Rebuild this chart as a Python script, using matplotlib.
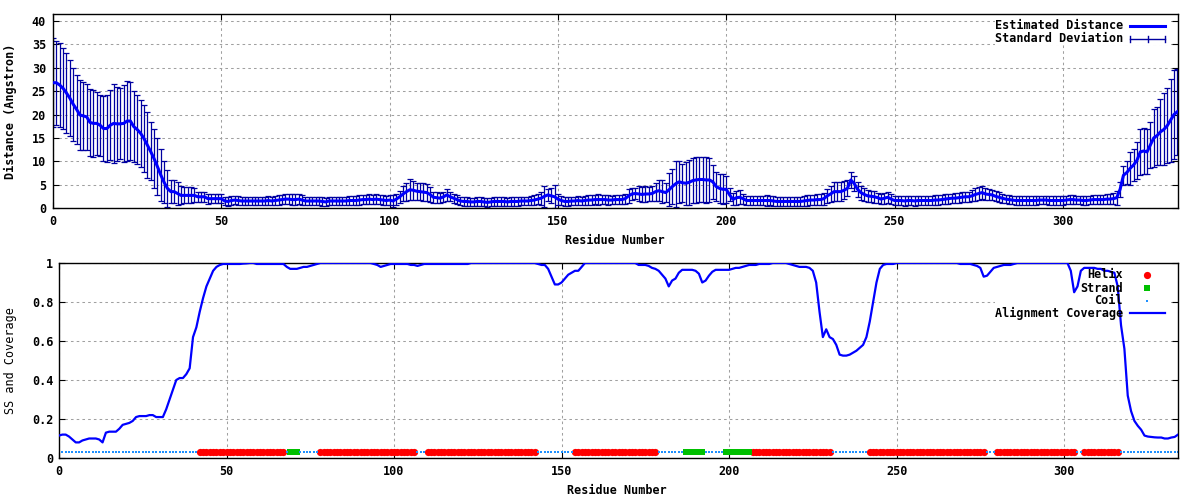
import matplotlib
matplotlib.use('Agg')
import matplotlib.pyplot as plt
import numpy as np
from matplotlib.patches import Rectangle
from matplotlib.lines import Line2D

# Estimated distance per residue (Angstrom), residues 0..334
distance = [
    26.8, 26.8, 26.3, 25.6, 24.6, 23.5, 22.2, 21.1, 19.9, 19.7,
    19.5, 18.3, 18.1, 18.1, 17.7, 17.0, 17.0, 17.7, 18.1, 18.0,
    18.0, 18.1, 18.6, 18.6, 17.4, 16.8, 16.0, 14.9, 13.5, 12.1,
    10.6, 8.9, 7.1, 5.5, 4.2, 3.5, 3.5, 3.1, 2.7, 2.7,
    2.7, 2.7, 2.7, 2.4, 2.4, 2.4, 2.0, 2.0, 2.0, 2.0,
    2.0, 1.5, 1.4, 1.6, 1.7, 1.6, 1.5, 1.5, 1.5, 1.5,
    1.5, 1.5, 1.5, 1.5, 1.6, 1.5, 1.6, 1.7, 1.8, 1.9,
    1.9, 1.8, 1.8, 1.9, 1.7, 1.5, 1.5, 1.5, 1.5, 1.5,
    1.4, 1.3, 1.5, 1.5, 1.5, 1.5, 1.5, 1.5, 1.6, 1.6,
    1.6, 1.7, 1.8, 1.8, 1.9, 1.8, 1.9, 1.8, 1.7, 1.6,
    1.7, 1.5, 1.9, 2.4, 3.0, 3.5, 3.9, 3.8, 3.6, 3.5,
    3.4, 3.3, 2.9, 2.3, 2.2, 2.1, 2.4, 2.8, 2.4, 2.1,
    1.8, 1.5, 1.4, 1.4, 1.3, 1.3, 1.4, 1.4, 1.3, 1.2,
    1.3, 1.4, 1.4, 1.4, 1.4, 1.3, 1.4, 1.4, 1.4, 1.5,
    1.5, 1.5, 1.6, 1.7, 1.9, 2.1, 2.5, 2.8, 2.6, 2.4,
    1.9, 1.6, 1.4, 1.4, 1.5, 1.5, 1.6, 1.5, 1.6, 1.7,
    1.7, 1.8, 1.8, 1.8, 1.8, 1.7, 1.7, 1.8, 1.8, 1.8,
    2.0, 2.6, 3.0, 3.1, 3.0, 2.9, 3.0, 3.0, 3.1, 3.5,
    3.7, 3.5, 3.3, 3.9, 4.6, 5.2, 5.6, 5.4, 5.3, 5.5,
    5.85, 6.0, 6.1, 6.1, 6.0, 6.0, 5.6, 4.6, 4.2, 4.0,
    4.0, 2.8, 1.85, 2.2, 2.3, 2.0, 1.6, 1.6, 1.6, 1.6,
    1.6, 1.6, 1.6, 1.6, 1.5, 1.4, 1.4, 1.4, 1.4, 1.4,
    1.4, 1.4, 1.4, 1.5, 1.6, 1.7, 1.7, 1.8, 1.8, 2.0,
    2.6, 3.0, 3.5, 3.5, 3.5, 3.8, 4.2, 6.0, 5.25, 4.0,
    3.3, 2.9, 2.6, 2.5, 2.4, 2.2, 1.9, 2.1, 2.3, 1.9,
    1.6, 1.6, 1.6, 1.5, 1.6, 1.6, 1.5, 1.6, 1.6, 1.6,
    1.6, 1.6, 1.7, 1.7, 1.8, 1.9, 2.0, 2.1, 2.1, 2.2,
    2.3, 2.4, 2.4, 2.6, 2.9, 3.1, 3.3, 3.0, 2.9, 2.8,
    2.5, 2.3, 2.1, 1.9, 1.8, 1.7, 1.6, 1.6, 1.6, 1.6,
    1.6, 1.6, 1.6, 1.7, 1.7, 1.7, 1.6, 1.6, 1.6, 1.6,
    1.6, 1.7, 1.8, 1.8, 1.7, 1.7, 1.6, 1.6, 1.7, 1.8,
    1.8, 1.8, 1.8, 1.9, 1.9, 2.0, 2.2, 4.0, 7.0, 7.6,
    8.5, 9.2, 10.2, 12.0, 12.2, 12.0, 13.5, 15.0, 15.5, 16.3,
    16.8, 17.6, 18.8, 20.0, 20.6,
]

# Standard deviation per residue
std_dev = [
    9.5, 9.0, 9.0, 8.6, 8.5, 8.1, 7.8, 7.4, 7.5, 7.2,
    7.0, 7.2, 7.1, 6.7, 6.5, 7.0, 7.1, 7.5, 8.4, 7.9,
    7.6, 8.2, 8.5, 8.3, 7.6, 7.3, 7.2, 7.1, 7.0, 6.2,
    6.3, 6.1, 5.5, 4.5, 3.9, 2.5, 2.5, 2.4, 1.9, 1.7,
    1.7, 1.7, 1.5, 1.1, 1.1, 1.1, 1.1, 1.0, 1.0, 1.0,
    1.0, 0.9, 1.0, 1.0, 0.9, 0.9, 0.9, 0.9, 0.9, 0.9,
    0.9, 0.9, 0.9, 0.9, 0.9, 0.9, 0.9, 1.0, 1.0, 1.1,
    1.0, 1.1, 1.2, 1.1, 1.0, 0.9, 0.9, 0.9, 0.9, 0.9,
    0.9, 0.9, 0.9, 0.9, 0.9, 0.9, 0.9, 0.9, 0.9, 0.9,
    0.9, 1.0, 1.0, 1.0, 1.0, 1.0, 1.0, 1.0, 1.1, 1.0,
    1.1, 1.3, 1.2, 1.3, 1.6, 1.9, 2.2, 2.0, 1.8, 1.8,
    1.9, 1.8, 1.6, 1.2, 1.2, 1.1, 1.1, 1.2, 1.0, 1.0,
    1.0, 0.9, 0.9, 0.9, 0.8, 0.8, 0.9, 0.9, 0.9, 0.9,
    0.9, 0.9, 0.9, 0.9, 0.9, 0.9, 0.9, 0.9, 0.9, 0.9,
    0.9, 0.9, 0.9, 1.0, 1.1, 1.4, 2.2, 1.3, 1.6, 2.5,
    1.2, 0.9, 0.9, 0.9, 0.9, 0.9, 0.9, 0.9, 1.0, 1.0,
    1.0, 1.0, 1.1, 1.0, 1.0, 1.0, 0.9, 1.0, 1.0, 1.0,
    1.1, 1.5, 1.3, 1.2, 1.6, 1.6, 1.7, 1.4, 1.5, 1.9,
    2.3, 2.5, 2.0, 3.5, 3.8, 4.9, 4.5, 4.1, 4.6, 4.8,
    4.8, 4.9, 4.9, 4.8, 4.9, 4.8, 3.7, 3.0, 3.1, 3.2,
    2.9, 1.4, 1.3, 1.5, 1.5, 1.1, 1.0, 1.0, 1.0, 1.0,
    1.0, 1.0, 1.1, 1.0, 1.0, 1.0, 1.0, 0.9, 0.9, 0.9,
    0.9, 1.0, 1.0, 1.0, 1.1, 1.0, 1.1, 1.2, 1.2, 1.3,
    1.5, 1.7, 2.1, 2.1, 2.0, 1.9, 1.7, 1.8, 1.7, 1.6,
    1.5, 1.4, 1.3, 1.2, 1.3, 1.1, 1.1, 1.2, 1.2, 1.1,
    1.0, 1.0, 1.0, 1.0, 1.0, 1.0, 1.0, 1.0, 1.0, 1.0,
    1.0, 1.0, 1.0, 1.0, 1.0, 1.0, 1.1, 1.0, 1.1, 1.1,
    1.1, 1.1, 1.1, 1.2, 1.3, 1.4, 1.4, 1.3, 1.2, 1.1,
    1.1, 1.1, 1.0, 0.9, 0.9, 0.9, 0.9, 0.9, 0.9, 0.9,
    0.9, 0.9, 0.9, 0.9, 0.9, 0.9, 0.9, 0.9, 0.9, 0.9,
    0.9, 0.9, 0.9, 0.9, 0.9, 0.9, 0.9, 0.9, 0.9, 1.0,
    1.0, 1.0, 1.0, 1.0, 1.1, 1.2, 1.5, 1.6, 2.0, 2.5,
    3.5, 3.5, 4.0, 5.0, 5.0, 4.8, 5.0, 6.2, 6.2, 7.0,
    7.7, 8.0, 8.9, 9.5, 9.2,
]

# Alignment coverage per residue
coverage = [
    0.115, 0.12, 0.12, 0.11, 0.095, 0.08, 0.08, 0.09, 0.095, 0.10,
    0.10, 0.10, 0.095, 0.08, 0.13, 0.135, 0.135, 0.135, 0.15, 0.17,
    0.175, 0.18, 0.19, 0.21, 0.215, 0.215, 0.215, 0.22, 0.22, 0.21,
    0.21, 0.21, 0.25, 0.30, 0.35, 0.40, 0.41, 0.41, 0.43, 0.46,
    0.62, 0.67, 0.75, 0.82, 0.88, 0.92, 0.96, 0.98, 0.99, 0.995,
    0.995, 0.995, 0.995, 0.995, 0.995, 0.997, 0.998, 1.0, 1.0, 0.995,
    0.995, 0.995, 0.995, 0.995, 0.995, 0.995, 0.995, 0.995, 0.98, 0.97,
    0.97, 0.97, 0.975, 0.98, 0.98, 0.985, 0.99, 0.995, 1.0, 1.0,
    1.0, 1.0, 1.0, 1.0, 1.0, 1.0, 1.0, 1.0, 1.0, 1.0,
    1.0, 1.0, 1.0, 1.0, 0.995, 0.99, 0.98, 0.985, 0.99, 0.995,
    0.995, 0.995, 0.995, 0.995, 0.995, 0.99, 0.99, 0.985, 0.99, 0.995,
    0.995, 0.995, 0.995, 0.995, 0.995, 0.995, 0.995, 0.995, 0.995, 0.995,
    0.995, 0.995, 0.995, 1.0, 1.0, 1.0, 1.0, 1.0, 1.0, 1.0,
    1.0, 1.0, 1.0, 1.0, 1.0, 1.0, 1.0, 1.0, 1.0, 1.0,
    1.0, 1.0, 1.0, 0.995, 0.99, 0.99, 0.97, 0.93, 0.89, 0.89,
    0.90, 0.92, 0.94, 0.95, 0.96, 0.96, 0.98, 1.0, 1.0, 1.0,
    1.0, 1.0, 1.0, 1.0, 1.0, 1.0, 1.0, 1.0, 1.0, 1.0,
    1.0, 1.0, 1.0, 0.99, 0.99, 0.99, 0.985, 0.975, 0.97, 0.96,
    0.94, 0.92, 0.88, 0.91, 0.92, 0.95, 0.965, 0.965, 0.965, 0.965,
    0.96, 0.945, 0.90, 0.91, 0.935, 0.955, 0.965, 0.965, 0.965, 0.965,
    0.965, 0.97, 0.975, 0.975, 0.98, 0.985, 0.99, 0.99, 0.99, 0.995,
    0.995, 0.995, 0.995, 1.0, 1.0, 1.0, 1.0, 1.0, 0.995, 0.99,
    0.985, 0.98, 0.98, 0.98, 0.975, 0.96, 0.90, 0.75, 0.62, 0.66,
    0.62, 0.61, 0.58, 0.53, 0.525, 0.525, 0.53, 0.54, 0.55, 0.565,
    0.58, 0.62, 0.70, 0.80, 0.90, 0.97, 0.99, 0.995, 0.995, 0.995,
    1.0, 1.0, 1.0, 1.0, 1.0, 1.0, 1.0, 1.0, 1.0, 1.0,
    1.0, 1.0, 1.0, 1.0, 1.0, 1.0, 1.0, 1.0, 1.0, 0.995,
    0.995, 0.995, 0.995, 0.99, 0.985, 0.975, 0.93, 0.935, 0.955, 0.975,
    0.98, 0.985, 0.99, 0.99, 0.99, 0.995, 1.0, 1.0, 1.0, 1.0,
    1.0, 1.0, 1.0, 1.0, 1.0, 1.0, 1.0, 1.0, 1.0, 1.0,
    1.0, 1.0, 0.96, 0.85, 0.88, 0.96, 0.975, 0.975, 0.975, 0.975,
    0.97, 0.97, 0.96, 0.96, 0.955, 0.95, 0.88, 0.68, 0.56, 0.32,
    0.24, 0.19, 0.165, 0.145, 0.115, 0.11, 0.108, 0.106, 0.105, 0.105,
    0.10, 0.10, 0.105, 0.108, 0.12,
]

# Secondary structure segments (first, last residue)
helix_segments = [(42, 67), (78, 106), (110, 142), (154, 178),
                  (207, 230), (242, 276), (280, 303), (306, 316)]
strand_segments = [(69, 71), (187, 192), (199, 206)]

dist_yticks = [0, 5, 10, 15, 20, 25, 30, 35, 40]
cov_yticks = [0, 0.2, 0.4, 0.6, 0.8, 1.0]
cov_yticklabels = ['0', '0.2', '0.4', '0.6', '0.8', '1']
res_xticks = [0, 50, 100, 150, 200, 250, 300]

residues = np.arange(len(distance))
ss = np.array(['C'] * len(residues))
for a, b in helix_segments:
    ss[a:b + 1] = 'H'
for a, b in strand_segments:
    ss[a:b + 1] = 'E'
ss_level = 0.03

W, H = 1200, 500
fig = plt.figure(figsize=(12, 5), dpi=100)
fig.patch.set_facecolor('white')

top_box = (53, 14, 1178, 208)    # left, top, right, bottom in pixels
bot_box = (59, 263, 1178, 458)

FONT = dict(family='DejaVu Sans Mono', weight='bold', size=8.5)
BLUE = '#0000ff'
NAVY = '#0000a0'
HELIX_MS = 5.2
STRAND_MS = 5.0
COIL_MS = 1.5


def add_axes_px(box):
    l, t, r, b = box
    return fig.add_axes([l / W, 1 - b / H, (r - l) / W, (b - t) / H])


def px2ax(box, px, py):
    l, t, r, b = box
    return (px - l) / (r - l), (b - py) / (b - t)


def style_axes(ax, ypad):
    ax.set_axisbelow(True)
    ax.grid(True, color='#a0a0a0', linestyle=(0, (2.5, 3)), linewidth=0.75)
    ax.tick_params(direction='in', length=4, width=0.8, top=True, right=True)
    ax.tick_params(axis='x', pad=5)
    ax.tick_params(axis='y', pad=ypad)
    for lab in ax.get_xticklabels() + ax.get_yticklabels():
        lab.set_fontfamily(FONT['family'])
        lab.set_fontweight(FONT['weight'])
        lab.set_fontsize(FONT['size'])
    for sp in ax.spines.values():
        sp.set_linewidth(1.0)


# ---------------- top panel: distance ----------------
ax1 = add_axes_px(top_box)
ax1.errorbar(residues, distance, yerr=std_dev, fmt='none', ecolor=NAVY,
             elinewidth=0.9, capsize=2.4, capthick=0.9, zorder=2)
ax1.plot(residues, distance, color=BLUE, linewidth=2.2, zorder=3)
ax1.set_xlim(0, 334.2)
ax1.set_ylim(0, 41.5)
ax1.set_xticks(res_xticks)
ax1.set_yticks(dist_yticks)
style_axes(ax1, 5)

# opaque key box
x0, y0 = px2ax(top_box, 995, 45)
ax1.add_patch(Rectangle((x0, y0), 1 - x0 - 0.006, 1 - y0 - 0.005, transform=ax1.transAxes,
                        facecolor='white', edgecolor='none', zorder=1))
tx, _ = px2ax(top_box, 1123, 0)
l0, _ = px2ax(top_box, 1130, 0)
l1, _ = px2ax(top_box, 1165, 0)
lm, _ = px2ax(top_box, 1147.5, 0)
_, r1 = px2ax(top_box, 0, 26)
_, r2 = px2ax(top_box, 0, 39)
ax1.text(tx, r1, 'Estimated Distance', transform=ax1.transAxes, ha='right', va='center',
         zorder=4, **FONT)
ax1.add_line(Line2D([l0, l1], [r1, r1], transform=ax1.transAxes, color=BLUE, linewidth=2.2,
                    zorder=4))
ax1.text(tx, r2, 'Standard Deviation', transform=ax1.transAxes, ha='right', va='center',
         zorder=4, **FONT)
dh = r1 - r2
ax1.add_line(Line2D([l0, l1], [r2, r2], transform=ax1.transAxes, color=NAVY, linewidth=1.0,
                    zorder=4))
for xx in (l0, lm, l1):
    ax1.add_line(Line2D([xx, xx], [r2 - dh * 0.25, r2 + dh * 0.25], transform=ax1.transAxes,
                        color=NAVY, linewidth=1.0, zorder=4))

fig.text(10 / W, 1 - 111 / H, 'Distance (Angstron)', rotation=90, ha='center', va='center',
         **FONT)
fig.text(615 / W, 1 - 241 / H, 'Residue Number', ha='center', va='center', **FONT)

# ---------------- bottom panel: SS and coverage ----------------
ax2 = add_axes_px(bot_box)
hel = residues[ss == 'H']
strd = residues[ss == 'E']
coil = residues[ss == 'C']
ax2.plot(hel, np.full(len(hel), ss_level), linestyle='none', marker='o', markersize=HELIX_MS,
         markeredgewidth=0, color='#ff0000', zorder=2)
ax2.plot(strd, np.full(len(strd), ss_level), linestyle='none', marker='s', markersize=STRAND_MS,
         markeredgewidth=0, color='#00c000', zorder=2)
ax2.plot(coil, np.full(len(coil), ss_level), linestyle='none', marker='s', markersize=COIL_MS,
         markeredgewidth=0, color='#1e90ff', zorder=2)
ax2.plot(residues, coverage, color=BLUE, linewidth=1.6, zorder=3)
ax2.set_xlim(0, 334)
ax2.set_ylim(0, 1)
ax2.set_xticks(res_xticks)
ax2.set_yticks(cov_yticks)
ax2.set_yticklabels(cov_yticklabels)
style_axes(ax2, 4)

x0, y0 = px2ax(bot_box, 995, 320)
ax2.add_patch(Rectangle((x0, y0), 1 - x0 - 0.006, 1 - y0 - 0.005, transform=ax2.transAxes,
                        facecolor='white', edgecolor='none', zorder=1))
tx, _ = px2ax(bot_box, 1123, 0)
mx, _ = px2ax(bot_box, 1147, 0)
l0, _ = px2ax(bot_box, 1130, 0)
l1, _ = px2ax(bot_box, 1165, 0)
rows = [px2ax(bot_box, 0, py)[1] for py in (275, 288, 301, 313)]
labels = ['Helix', 'Strand', 'Coil', 'Alignment Coverage']
for lab, ry in zip(labels, rows):
    ax2.text(tx, ry, lab, transform=ax2.transAxes, ha='right', va='center', zorder=4, **FONT)
ax2.plot([mx], [rows[0]], transform=ax2.transAxes, marker='o', markersize=HELIX_MS,
         markeredgewidth=0, color='#ff0000', linestyle='none', zorder=4, clip_on=False)
ax2.plot([mx], [rows[1]], transform=ax2.transAxes, marker='s', markersize=STRAND_MS,
         markeredgewidth=0, color='#00c000', linestyle='none', zorder=4, clip_on=False)
ax2.plot([mx], [rows[2]], transform=ax2.transAxes, marker='s', markersize=COIL_MS,
         markeredgewidth=0, color='#1e90ff', linestyle='none', zorder=4, clip_on=False)
ax2.add_line(Line2D([l0, l1], [rows[3], rows[3]], transform=ax2.transAxes, color=BLUE,
                    linewidth=1.6, zorder=4))

fig.text(11 / W, 1 - 361 / H, 'SS and Coverage', rotation=90, ha='center', va='center',
         family='DejaVu Sans Mono', size=8.5)
fig.text(617 / W, 1 - 491 / H, 'Residue Number', ha='center', va='center', **FONT)

fig.savefig('out.png', dpi=100, facecolor='white')
